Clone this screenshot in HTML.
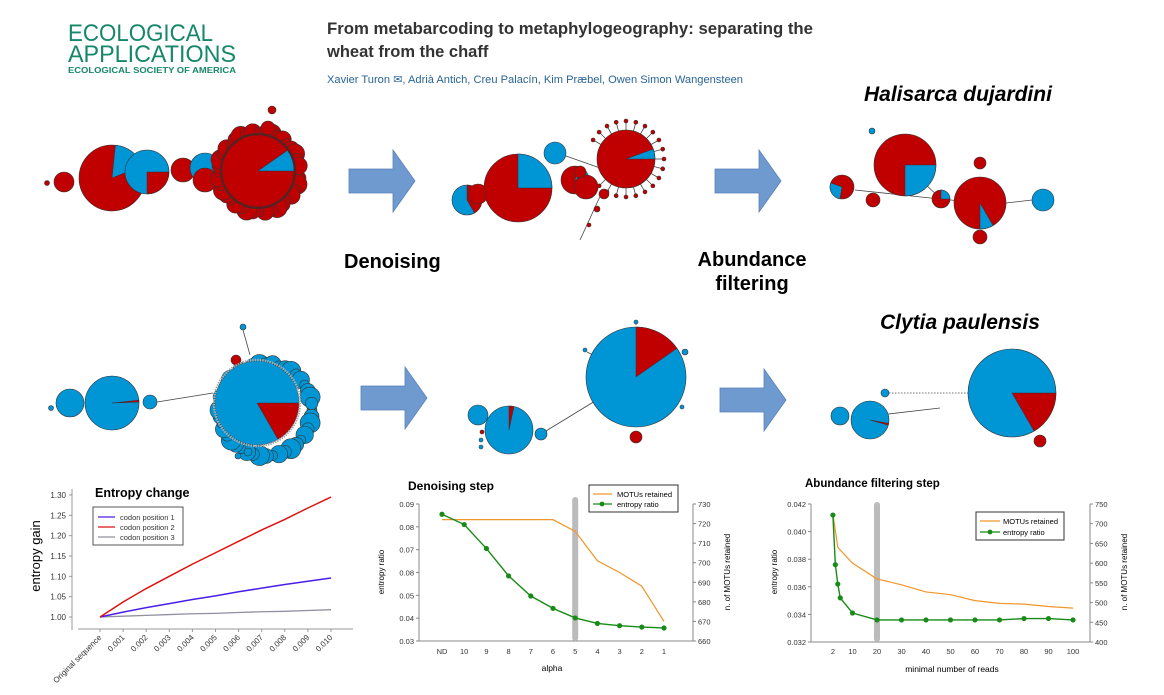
<!DOCTYPE html>
<html><head><meta charset="utf-8"><style>
html,body{margin:0;padding:0;background:#fff;width:1164px;height:695px;overflow:hidden}
svg{display:block;font-family:"Liberation Sans",sans-serif}
</style></head><body>
<svg id="root" width="1164" height="695" viewBox="0 0 1164 695">
<g fill="#17876a">
<text x="68" y="41" font-size="24" textLength="145" lengthAdjust="spacingAndGlyphs">ECOLOGICAL</text>
<text x="68" y="62" font-size="24" textLength="168" lengthAdjust="spacingAndGlyphs">APPLICATIONS</text>
<text x="68" y="73" font-size="8" font-weight="bold" textLength="168" lengthAdjust="spacingAndGlyphs">ECOLOGICAL SOCIETY OF AMERICA</text>
</g>
<g fill="#333" font-size="16.5" font-weight="bold">
<text x="327" y="34" textLength="486" lengthAdjust="spacingAndGlyphs">From metabarcoding to metaphylogeography: separating the</text>
<text x="327" y="57">wheat from the chaff</text>
</g>
<text x="327" y="83" font-size="11" fill="#2a6496" textLength="416" lengthAdjust="spacingAndGlyphs">Xavier Turon ✉,  Adrià Antich,  Creu Palacín,  Kim Præbel,  Owen Simon Wangensteen</text>

<g id="nets"></g>

<text x="344" y="268" font-size="20" font-weight="bold">Denoising</text>
<text x="752" y="266" font-size="20" font-weight="bold" text-anchor="middle">Abundance</text>
<text x="752" y="290" font-size="20" font-weight="bold" text-anchor="middle">filtering</text>
<text x="864" y="101" font-size="21" font-weight="bold" font-style="italic">Halisarca dujardini</text>
<text x="880" y="329" font-size="21" font-weight="bold" font-style="italic">Clytia paulensis</text>

<g id="c1"></g>
<g id="c2"></g>
<g id="c3"></g>
</svg>
<script>
const NS='http://www.w3.org/2000/svg';
function mk(p,tag,at,txt){const e=document.createElementNS(NS,tag);for(const k in at)e.setAttribute(k,at[k]);if(txt!==undefined)e.textContent=txt;p.appendChild(e);return e;}
const RED='#c00000',BLUE='#0096d6';
const nets=document.getElementById('nets');
function pie(cx,cy,r,base,wc,a0,a1){
  const g=mk(nets,'g',{});
  
  
  mk(g,'circle',{cx:cx,cy:cy,r:r,fill:base,stroke:'#333','stroke-width':0.6});
  if(wc){const t=a=>[cx+r*Math.cos(a*Math.PI/180),cy+r*Math.sin(a*Math.PI/180)];
    const p0=t(a0),p1=t(a1);const large=(a1-a0)>180?1:0;
    mk(g,'path',{d:`M${cx},${cy}L${p0[0]},${p0[1]}A${r},${r} 0 ${large} 1 ${p1[0]},${p1[1]}Z`,fill:wc,stroke:'#333','stroke-width':0.5});}
}
function line(x1,y1,x2,y2,dash){const l=mk(nets,'line',{x1,y1,x2,y2,stroke:'#444','stroke-width':0.8});if(dash)l.setAttribute('stroke-dasharray','1.5,1.5');

}
function ring(cx,cy,R,n,rmin,rmax,col){for(let i=0;i<n;i++){const a=i/n*2*Math.PI;const r=rmin+(rmax-rmin)*((i*7)%5)/4;pie(cx+R*Math.cos(a),cy+R*Math.sin(a),r,col);}}
function arrow(x,y){const g=mk(nets,'path',{d:`M${x},${y-12}h44v-19l22,31l-22,31v-19h-44z`,fill:'#6f9ad0',stroke:'#5a80b8','stroke-width':0.8});

}
pie(47,183,2.5,RED);pie(64,182,10,RED);
pie(112,178,33,RED,BLUE,-84,-22);
pie(147,172,22,BLUE,RED,0,90);
pie(183,170,12,RED);pie(205,168,15,BLUE);pie(205,180,12,RED);
ring(259,172,40,40,5,10,RED);pie(272,110,4,RED);pie(268,128,7,RED);
pie(258,171,36,RED,BLUE,-35,0);
mk(nets,'circle',{cx:258,cy:171,r:37,fill:'none',stroke:'#552222','stroke-width':2});
arrow(349,181);
pie(555,153,11,BLUE);line(566,156,600,168);
pie(467,200,15,BLUE,RED,-90,60);pie(478,194,10,RED);
pie(518,188,34,RED,BLUE,-90,0);
pie(575,180,14,RED,BLUE,-70,10);pie(586,187,12,RED);pie(580,172,6,RED);
for(let i=0;i<20;i++){const a=(-150+i*15)*Math.PI/180;const x1=626+29*Math.cos(a),y1=159+29*Math.sin(a),x2=626+38*Math.cos(a),y2=159+38*Math.sin(a);line(x1,y1,x2,y2);pie(x2,y2,2,RED);}
pie(626,159,29,RED,BLUE,-20,0);
line(603,190,580,240);pie(604,194,5,RED);pie(597,209,3,RED);pie(589,225,2,RED);
arrow(715,181);
pie(872,131,3,BLUE);line(905,165,941,199);line(941,199,980,203);line(1006,203,1032,200);line(855,190,940,199);
pie(905,165,31,RED,BLUE,0,90);pie(842,187,12,RED,BLUE,100,200);pie(873,200,7,RED);
pie(980,163,6,RED);pie(941,199,9,RED,BLUE,-90,0);pie(980,203,26,RED,BLUE,60,90);pie(1043,200,11,BLUE);pie(980,237,7,RED);
pie(51,408,2.5,BLUE);pie(70,403,14,BLUE);pie(112,403,27,BLUE,RED,-6,-2);pie(150,402,7,BLUE);line(157,402,213,393);
ring(266,410,46,44,5,10,BLUE);pie(243,327,3,BLUE);line(243,330,250,355);pie(238,456,3,BLUE);pie(248,452,4,BLUE);pie(236,360,5,RED);
pie(257,403,42,BLUE,RED,0,60);
mk(nets,'circle',{cx:257,cy:403,r:43,fill:'none',stroke:'#aaa','stroke-width':2.5,'stroke-dasharray':'1.5,1'});
arrow(361,398);
line(541,434,600,398);line(636,325,636,320);pie(636,322,2,BLUE);pie(585,350,2,BLUE);line(587,352,603,360);pie(685,352,3,BLUE);pie(682,407,2,BLUE);
pie(478,415,10,BLUE);pie(509,430,24,BLUE,RED,-90,-78);pie(541,434,6,BLUE);pie(482,432,2,RED);pie(481,440,2,BLUE);pie(481,447,2,BLUE);
pie(636,377,50,BLUE,RED,-90,-35);pie(636,437,6,RED);
arrow(720,400);
line(889,393,968,393,true);line(880,415,940,408);
pie(840,416,9,BLUE);pie(870,420,19,BLUE,RED,10,16);pie(885,393,4,BLUE);
pie(1012,393,44,BLUE,RED,0,60);pie(1040,441,6,RED);

const c1Cats=['Original sequence','0.001','0.002','0.003','0.004','0.005','0.006','0.007','0.008','0.009','0.010'];
const c1Pos1=[1.000,1.012,1.023,1.033,1.043,1.052,1.062,1.071,1.080,1.088,1.096];
const c1Pos2=[1.000,1.037,1.070,1.100,1.130,1.158,1.186,1.214,1.240,1.268,1.295];
const c1Pos3=[1.000,1.002,1.004,1.006,1.008,1.009,1.011,1.013,1.014,1.016,1.018];
const c1Ticks=[1.00,1.05,1.10,1.15,1.20,1.25,1.30];
const c2Cats=['ND','10','9','8','7','6','5','4','3','2','1'];
const c2Entropy=[0.0855,0.0810,0.0705,0.0585,0.0497,0.0443,0.0401,0.0377,0.0367,0.0361,0.0357];
const c2Motus=[722,722,722,722,722,722,716,701,695,688,670];
const c2LeftTicks=['0.03','0.04','0.05','0.08','0.07','0.08','0.09'];
const c2RightTicks=[660,670,680,690,700,710,720,730];
const c3Reads=[2,3,4,5,10,20,30,40,50,60,70,80,90,100];
const c3Entropy=[0.0412,0.0376,0.0362,0.0352,0.0341,0.0336,0.0336,0.0336,0.0336,0.0336,0.0336,0.0337,0.0337,0.0336];
const c3MotuReads=[2,4,10,20,30,40,50,60,70,80,90,100];
const c3Motus=[725,640,600,560,545,527,520,505,498,496,490,486];
const c3XTicks=[2,10,20,30,40,50,60,70,80,90,100];
const c3LeftTicks=[0.032,0.034,0.036,0.038,0.040,0.042];
const c3RightTicks=[400,450,500,550,600,650,700,750];

function poly(g,pts,col,w,name){const p=mk(g,'polyline',{points:pts.map(p=>p.join(',')).join(' '),fill:'none',stroke:col,'stroke-width':w});

}
(function(){const g=document.getElementById('c1');
 const x=i=>100+i*(331-100)/10, y=v=>617-(v-1)*(617-495)/0.3;
 mk(g,'line',{x1:72,y1:489,x2:72,y2:630,stroke:'#999'});mk(g,'line',{x1:78,y1:629,x2:353,y2:629,stroke:'#999'});
 c1Ticks.forEach(t=>{mk(g,'line',{x1:69,y1:y(t),x2:72,y2:y(t),stroke:'#999'});const tx=mk(g,'text',{x:66,y:y(t)+3,'font-size':8,'text-anchor':'end',fill:'#333'},t.toFixed(2));
 });
 c1Cats.forEach((c,i)=>{mk(g,'line',{x1:x(i),y1:629,x2:x(i),y2:632,stroke:'#999'});const tx=mk(g,'text',{x:x(i)+2,y:638,'font-size':8,'text-anchor':'end',fill:'#333',transform:`rotate(-45 ${x(i)+2} 638)`},c);
 });
 const yt=mk(g,'text',{x:40,y:556,'font-size':13,'text-anchor':'middle',transform:'rotate(-90 40 556)'},'entropy gain');
 
 const tt=mk(g,'text',{x:95,y:497,'font-size':12.5,'font-weight':'bold'},'Entropy change');
 
 poly(g,c1Pos3.map((v,i)=>[x(i),y(v)]),'#9090a0',1.3,'series-codon-3');
 poly(g,c1Pos1.map((v,i)=>[x(i),y(v)]),'#4a1ee8',1.5,'series-codon-1');
 poly(g,c1Pos2.map((v,i)=>[x(i),y(v)]),'#e01010',1.5,'series-codon-2');
 const lg=mk(g,'g',{});
 mk(lg,'rect',{x:93,y:507,width:90,height:38,fill:'#fff',stroke:'#555'});
 [['codon position 1','#4a1ee8'],['codon position 2','#e01010'],['codon position 3','#9090a0']].forEach((e,i)=>{mk(lg,'line',{x1:98,y1:517+i*10,x2:115,y2:517+i*10,stroke:e[1],'stroke-width':1.3});mk(lg,'text',{x:120,y:520+i*10,'font-size':7.5,fill:'#333'},e[0]);});
})();
function dual(gid,cfg){const g=document.getElementById(gid);
 mk(g,'line',{x1:cfg.xl,y1:cfg.yt,x2:cfg.xl,y2:cfg.yb,stroke:'#888'});mk(g,'line',{x1:cfg.xr,y1:cfg.yt,x2:cfg.xr,y2:cfg.yb,stroke:'#888'});
 mk(g,'line',{x1:cfg.xl,y1:cfg.yb,x2:cfg.xr,y2:cfg.yb,stroke:'#888'});
 cfg.left.forEach((t,i)=>{const yy=cfg.yb-i*(cfg.yb-cfg.yt)/(cfg.left.length-1);mk(g,'line',{x1:cfg.xl-3,y1:yy,x2:cfg.xl,y2:yy,stroke:'#888'});const tx=mk(g,'text',{x:cfg.xl-5,y:yy+3,'font-size':7.5,'text-anchor':'end',fill:'#333'},t);
 });
 cfg.right.forEach((t,i)=>{const yy=cfg.yb-i*(cfg.yb-cfg.yt)/(cfg.right.length-1);mk(g,'line',{x1:cfg.xr,y1:yy,x2:cfg.xr+3,y2:yy,stroke:'#888'});const tx=mk(g,'text',{x:cfg.xr+5,y:yy+3,'font-size':7.5,fill:'#333'},t);
 });
 return g;}
(function(){const cfg={xl:419,xr:693,yt:504,yb:641,left:c2LeftTicks,right:c2RightTicks};const g=dual('c2',cfg);
 const x=i=>442+i*22.2, yl=v=>641-(v-0.03)/0.06*137, yr=v=>641-(v-660)/70*137;
 const band=mk(g,'rect',{x:x(6)-3,y:497,width:6,height:144,fill:'#bbb',rx:3});
 c2Cats.forEach((c,i)=>{const tx=mk(g,'text',{x:x(i),y:654,'font-size':7.5,'text-anchor':'middle',fill:'#333'},c);});
 poly(g,c2Motus.map((v,i)=>[x(i),yr(v)]),'#f0962a',1.2,'series-motus-retained');
 poly(g,c2Entropy.map((v,i)=>[x(i),yl(v)]),'#188a18',1.4,'series-entropy-ratio');
 c2Entropy.forEach((v,i)=>{const c=mk(g,'circle',{cx:x(i),cy:yl(v),r:2.6,fill:'#188a18'});});
 let t=mk(g,'text',{x:408,y:490,'font-size':12,'font-weight':'bold'},'Denoising step');
 t=mk(g,'text',{x:552,y:671,'font-size':8.5,'text-anchor':'middle'},'alpha');
 t=mk(g,'text',{x:384,y:572,'font-size':8,'text-anchor':'middle',transform:'rotate(-90 384 572)'},'entropy ratio');
 t=mk(g,'text',{x:730,y:572,'font-size':8,'text-anchor':'middle',transform:'rotate(-90 730 572)'},'n. of MOTUs retained');
 const lg=mk(g,'g',{});
 mk(lg,'rect',{x:589,y:485,width:89,height:27,fill:'#fff',stroke:'#333'});
 mk(lg,'line',{x1:593,y1:494,x2:612,y2:494,stroke:'#f0962a','stroke-width':1.2});mk(lg,'text',{x:617,y:497,'font-size':7.5},'MOTUs retained');
 mk(lg,'line',{x1:593,y1:504,x2:612,y2:504,stroke:'#188a18','stroke-width':1.2});mk(lg,'circle',{cx:602,cy:504,r:2.4,fill:'#188a18'});mk(lg,'text',{x:617,y:507,'font-size':7.5},'entropy ratio');
})();
(function(){const cfg={xl:811,xr:1090,yt:504,yb:642,left:c3LeftTicks.map(v=>v.toFixed(3)),right:c3RightTicks};const g=dual('c3',cfg);
 const x=v=>877+(v-20)*2.45, yl=v=>642-(v-0.032)/0.010*138, yr=v=>642-(v-400)/350*138;
 const band=mk(g,'rect',{x:x(20)-3,y:502,width:6,height:140,fill:'#bbb',rx:3});
 c3XTicks.forEach(v=>{const tx=mk(g,'text',{x:x(v),y:654,'font-size':7.5,'text-anchor':'middle',fill:'#333'},v);});
 poly(g,c3Motus.map((v,i)=>[x(c3MotuReads[i]),yr(v)]),'#f0962a',1.2,'series-motus-retained');
 poly(g,c3Entropy.map((v,i)=>[x(c3Reads[i]),yl(v)]),'#188a18',1.4,'series-entropy-ratio');
 c3Entropy.forEach((v,i)=>{const c=mk(g,'circle',{cx:x(c3Reads[i]),cy:yl(v),r:2.6,fill:'#188a18'});});
 let t=mk(g,'text',{x:805,y:487,'font-size':11.5,'font-weight':'bold'},'Abundance filtering step');
 t=mk(g,'text',{x:952,y:672,'font-size':8.5,'text-anchor':'middle'},'minimal number of reads');
 t=mk(g,'text',{x:777,y:572,'font-size':8,'text-anchor':'middle',transform:'rotate(-90 777 572)'},'entropy ratio');
 t=mk(g,'text',{x:1127,y:572,'font-size':8,'text-anchor':'middle',transform:'rotate(-90 1127 572)'},'n. of MOTUs retained');
 const lg=mk(g,'g',{});
 mk(lg,'rect',{x:976,y:512,width:88,height:28,fill:'#fff',stroke:'#333'});
 mk(lg,'line',{x1:980,y1:521,x2:1000,y2:521,stroke:'#f0962a','stroke-width':1.2});mk(lg,'text',{x:1003,y:524,'font-size':7.5},'MOTUs retained');
 mk(lg,'line',{x1:980,y1:532,x2:1000,y2:532,stroke:'#188a18','stroke-width':1.2});mk(lg,'circle',{cx:990,cy:532,r:2.4,fill:'#188a18'});mk(lg,'text',{x:1003,y:535,'font-size':7.5},'entropy ratio');
})();
</script>
</body></html>
